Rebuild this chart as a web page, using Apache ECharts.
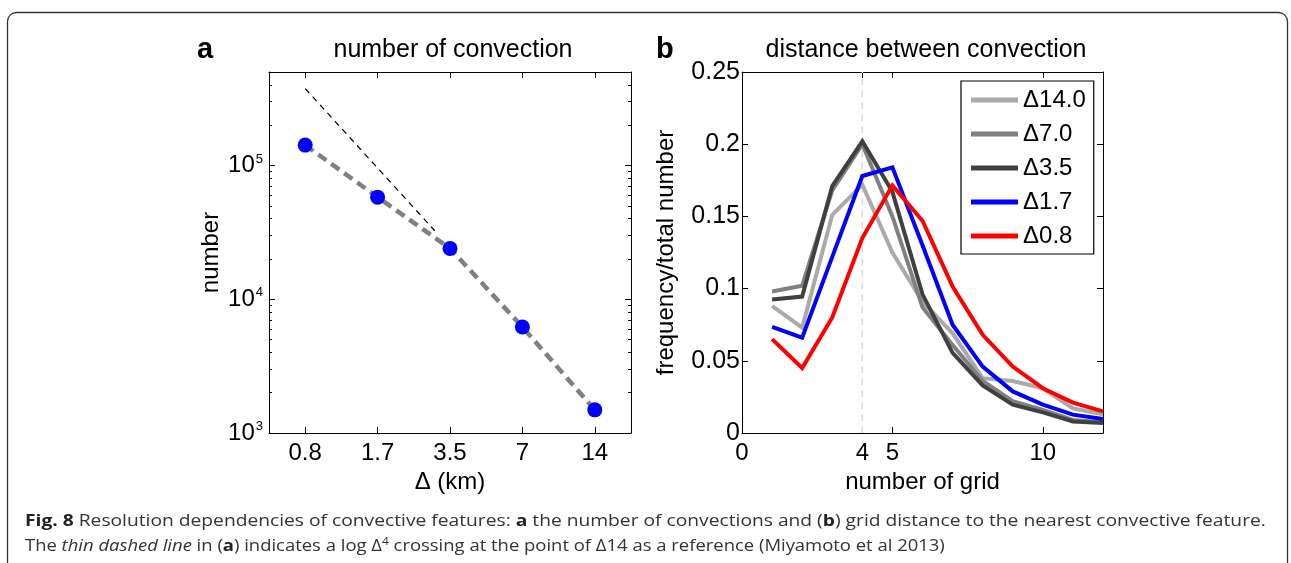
<!DOCTYPE html>
<html>
<head>
<meta charset="utf-8">
<script src="https://cdn.jsdelivr.net/npm/echarts@6/dist/echarts.min.js"></script>
<style>
  html, body { margin: 0; padding: 0; background: #fff; }
  #chart { width: 1291px; height: 563px; }
</style>
</head>
<body>
<div id="chart"></div>
<script>
// Panel a: number of convective features per model resolution
const resolutionLabels = ['0.8', '1.7', '3.5', '7', '14'];
const resolutionPos = [0, 1, 2, 3, 4];
const convectionCount = [142000, 58000, 24000, 6200, 1490];
// thin reference line (log Δ slope through the Δ14 point), drawn over part of the range
const refLinePos = [0, 1.79];
const refLineCount = [376000, 32500];
const countTicks = [1000, 10000, 100000];

// Panel b: distance (in grid points) to the nearest convective feature
const gridDistance = [1, 2, 3, 4, 5, 6, 7, 8, 9, 10, 11, 12];
const seriesNames = ['\u039414.0', '\u03947.0', '\u03943.5', '\u03941.7', '\u03940.8'];
const freq140 = [0.088, 0.073, 0.151, 0.172, 0.125, 0.091, 0.069, 0.038, 0.036, 0.031, 0.017, 0.013];
const freq70  = [0.098, 0.102, 0.168, 0.200, 0.150, 0.087, 0.061, 0.036, 0.022, 0.016, 0.009, 0.0075];
const freq35  = [0.0925, 0.0945, 0.171, 0.202, 0.167, 0.096, 0.0555, 0.033, 0.0196, 0.0143, 0.008, 0.007];
const freq17  = [0.0735, 0.066, 0.122, 0.178, 0.184, 0.130, 0.075, 0.046, 0.0288, 0.0196, 0.0127, 0.0097];
const freq08  = [0.065, 0.045, 0.080, 0.135, 0.1715, 0.147, 0.1015, 0.068, 0.046, 0.031, 0.021, 0.015];
const distanceLabels = [0, 4, 5, 10];
const markedDistance = 4;

const FONT = '"Liberation Sans", Arial, Helvetica, sans-serif';
const CAPTION_FONT = '"Open Sans", sans-serif';
const seriesColors = ['#aaaaaa', '#808080', '#404040', '#0000ff', '#ff0000'];
const freqData = [freq140, freq70, freq35, freq17, freq08];

// minor tick positions for the log axis (2..9 within each decade)
const countMinorTicks = [];
for (let d = 1000; d < 500000; d *= 10) {
  for (let k = 2; k <= 9; k++) {
    if (k * d <= 500000) countMinorTicks.push(k * d);
  }
}

const pairs = (xs, ys) => xs.map((x, i) => [x, ys[i]]);
const boxLine = { show: true, onZero: false, lineStyle: { color: '#000', width: 1 } };
const noLine = { show: false, onZero: false };

function extraY(gridIndex, position, type, showLine, extra) {
  return Object.assign({
    gridIndex: gridIndex, type: type, position: position,
    axisLine: showLine ? boxLine : noLine,
    splitLine: { show: false },
    axisLabel: { show: false }
  }, extra);
}

const chart = echarts.init(document.getElementById('chart'), null, { renderer: 'canvas' });

const option = {
  animation: false,
  backgroundColor: '#ffffff',
  textStyle: { fontFamily: FONT, color: '#000' },
  title: [
    { text: 'number of convection', left: 448, top: 33, textAlign: 'center',
      textStyle: { fontFamily: FONT, fontSize: 25, fontWeight: 'normal', color: '#000' } },
    { text: 'distance between convection', left: 921, top: 33, textAlign: 'center',
      textStyle: { fontFamily: FONT, fontSize: 25, fontWeight: 'normal', color: '#000' } },
    { text: 'a', left: 192, top: 30,
      textStyle: { fontFamily: FONT, fontSize: 29, fontWeight: 'bold', color: '#000' } },
    { text: 'b', left: 651, top: 30,
      textStyle: { fontFamily: FONT, fontSize: 29, fontWeight: 'bold', color: '#000' } }
  ],
  grid: [
    { left: 269, top: 72, width: 362, height: 361 },
    { left: 742, top: 72, width: 361, height: 361 }
  ],
  legend: {
    data: seriesNames,
    orient: 'vertical',
    left: 961, top: 81,
    padding: [7, 8, 6, 10],
    itemGap: 10,
    itemWidth: 47, itemHeight: 5,
    icon: 'rect',
    selectedMode: false,
    borderColor: '#000', borderWidth: 1.2,
    backgroundColor: '#fff',
    textStyle: { fontFamily: FONT, fontSize: 24, color: '#000' }
  },
  xAxis: [
    { // panel a, bottom
      gridIndex: 0, type: 'value', min: -0.5, max: 4.5,
      name: '\u0394 (km)', nameLocation: 'middle', nameGap: 35,
      nameTextStyle: { fontFamily: FONT, fontSize: 24, color: '#000' },
      axisLine: boxLine,
      axisTick: { inside: true, length: 6, customValues: resolutionPos, lineStyle: { color: '#000' } },
      axisLabel: { customValues: resolutionPos, formatter: v => resolutionLabels[Math.round(v)],
        fontFamily: FONT, fontSize: 24, color: '#000', margin: 8 },
      splitLine: { show: false }
    },
    { // panel a, top mirror
      gridIndex: 0, type: 'value', min: -0.5, max: 4.5, position: 'top',
      axisLine: boxLine,
      axisTick: { inside: true, length: 6, customValues: resolutionPos, lineStyle: { color: '#000' } },
      axisLabel: { show: false }, splitLine: { show: false }
    },
    { // panel b, bottom
      gridIndex: 1, type: 'value', min: 0, max: 12,
      name: 'number of grid', nameLocation: 'middle', nameGap: 35,
      nameTextStyle: { fontFamily: FONT, fontSize: 24, color: '#000' },
      axisLine: boxLine,
      axisTick: { inside: true, length: 6, customValues: distanceLabels, lineStyle: { color: '#000' } },
      axisLabel: { customValues: distanceLabels, fontFamily: FONT, fontSize: 24, color: '#000', margin: 8 },
      splitLine: { show: false }
    },
    { // panel b, top mirror
      gridIndex: 1, type: 'value', min: 0, max: 12, position: 'top',
      axisLine: boxLine,
      axisTick: { inside: true, length: 6, customValues: distanceLabels, lineStyle: { color: '#000' } },
      axisLabel: { show: false }, splitLine: { show: false }
    }
  ],
  yAxis: [
    { // panel a, left, labelled decades
      gridIndex: 0, type: 'log', logBase: 10, min: 1000, max: 500000, position: 'left',
      name: 'number', nameLocation: 'middle', nameGap: 46, nameRotate: 90,
      nameTextStyle: { fontFamily: FONT, fontSize: 24, color: '#000' },
      axisLine: boxLine,
      axisTick: { inside: true, length: 6, customValues: countTicks, lineStyle: { color: '#000' } },
      axisLabel: {
        customValues: countTicks, margin: 6,
        formatter: v => '{base|10}{sup|' + Math.round(Math.log10(v)) + '}',
        rich: {
          base: { fontFamily: FONT, fontSize: 24, color: '#000' },
          sup: { fontFamily: FONT, fontSize: 13, color: '#000', padding: [0, 0, 13, 1] }
        }
      },
      splitLine: { show: false }
    },
    extraY(0, 'left', 'log', false, { logBase: 10, min: 1000, max: 500000,
      axisTick: { inside: true, length: 3, customValues: countMinorTicks, lineStyle: { color: '#000' } } }),
    extraY(0, 'right', 'log', true, { logBase: 10, min: 1000, max: 500000,
      axisTick: { inside: true, length: 6, customValues: countTicks, lineStyle: { color: '#000' } } }),
    extraY(0, 'right', 'log', false, { logBase: 10, min: 1000, max: 500000,
      axisTick: { inside: true, length: 3, customValues: countMinorTicks, lineStyle: { color: '#000' } } }),
    { // panel b, left
      gridIndex: 1, type: 'value', min: 0, max: 0.25, interval: 0.05, position: 'left',
      name: 'frequency/total number', nameLocation: 'middle', nameGap: 64, nameRotate: 90,
      nameTextStyle: { fontFamily: FONT, fontSize: 24, color: '#000' },
      axisLine: boxLine,
      axisTick: { inside: true, length: 6, lineStyle: { color: '#000' } },
      axisLabel: { fontFamily: FONT, fontSize: 25, color: '#000', margin: 2 },
      splitLine: { show: false }
    },
    extraY(1, 'right', 'value', true, { min: 0, max: 0.25, interval: 0.05,
      axisTick: { inside: true, length: 6, lineStyle: { color: '#000' } } })
  ],
  series: [
    { // thin dashed reference slope
      type: 'line', xAxisIndex: 0, yAxisIndex: 0, silent: true,
      data: pairs(refLinePos, refLineCount), symbol: 'none',
      lineStyle: { color: '#000', width: 1.2, type: [6, 5] }, z: 2
    },
    { // thick dashed connector through the counts
      type: 'line', xAxisIndex: 0, yAxisIndex: 0, silent: true,
      data: pairs(resolutionPos, convectionCount), symbol: 'none',
      lineStyle: { color: '#808080', width: 4.5, type: [10, 6] }, z: 3
    },
    { // convection counts
      type: 'scatter', xAxisIndex: 0, yAxisIndex: 0, silent: true,
      data: pairs(resolutionPos, convectionCount), symbol: 'circle', symbolSize: 15,
      itemStyle: { color: '#0000ff', opacity: 1 }, z: 4
    },
    { // light dashed marker at the typical spacing
      type: 'line', xAxisIndex: 2, yAxisIndex: 4, silent: true,
      data: [[markedDistance, 0], [markedDistance, 0.25]], symbol: 'none',
      lineStyle: { color: '#d9d9d9', width: 1.5, type: [7, 5] }, z: 1
    }
  ].concat(seriesNames.map((name, i) => ({
    name: name, type: 'line', xAxisIndex: 2, yAxisIndex: 4,
    data: pairs(gridDistance, freqData[i]),
    symbol: 'none', color: seriesColors[i],
    lineStyle: { color: seriesColors[i], width: 4, join: 'miter' },
    z: 3 + i
  }))),
  graphic: [
    { // rounded frame around the figure
      type: 'rect', silent: true, z: -1,
      shape: { x: 7.5, y: 12.5, width: 1280, height: 700, r: 9 },
      style: { fill: 'none', stroke: '#333', lineWidth: 1.3 }
    },
    {
      type: 'text', x: 25, y: 522, scaleX: 1.24, silent: true,
      style: {
        x: 0, y: 0, verticalAlign: 'middle',
        text: '{b|Fig. 8} Resolution dependencies of convective features: {b|a} the number of convections and ({b|b}) grid distance to the nearest convective feature.',
        fontFamily: CAPTION_FONT, fontSize: 15.5, fill: '#333',
        rich: { b: { fontFamily: CAPTION_FONT, fontSize: 15.5, fontWeight: 'bold', fill: '#222' } }
      }
    },
    {
      type: 'text', x: 25, y: 547, scaleX: 1.19, silent: true,
      style: {
        x: 0, y: 0, verticalAlign: 'middle',
        text: 'The {i|thin dashed line} in ({b|a}) indicates a log \u0394{sup|4} crossing at the point of \u039414 as a reference (Miyamoto et al 2013)',
        fontFamily: CAPTION_FONT, fontSize: 15.5, fill: '#333',
        rich: {
          b: { fontFamily: CAPTION_FONT, fontSize: 15.5, fontWeight: 'bold', fill: '#222' },
          i: { fontFamily: CAPTION_FONT, fontSize: 15.5, fontStyle: 'italic', fill: '#333' },
          sup: { fontFamily: CAPTION_FONT, fontSize: 10, fill: '#333', padding: [0, 0, 9, 0] }
        }
      }
    }
  ]
};

chart.setOption(option);
</script>
</body>
</html>
